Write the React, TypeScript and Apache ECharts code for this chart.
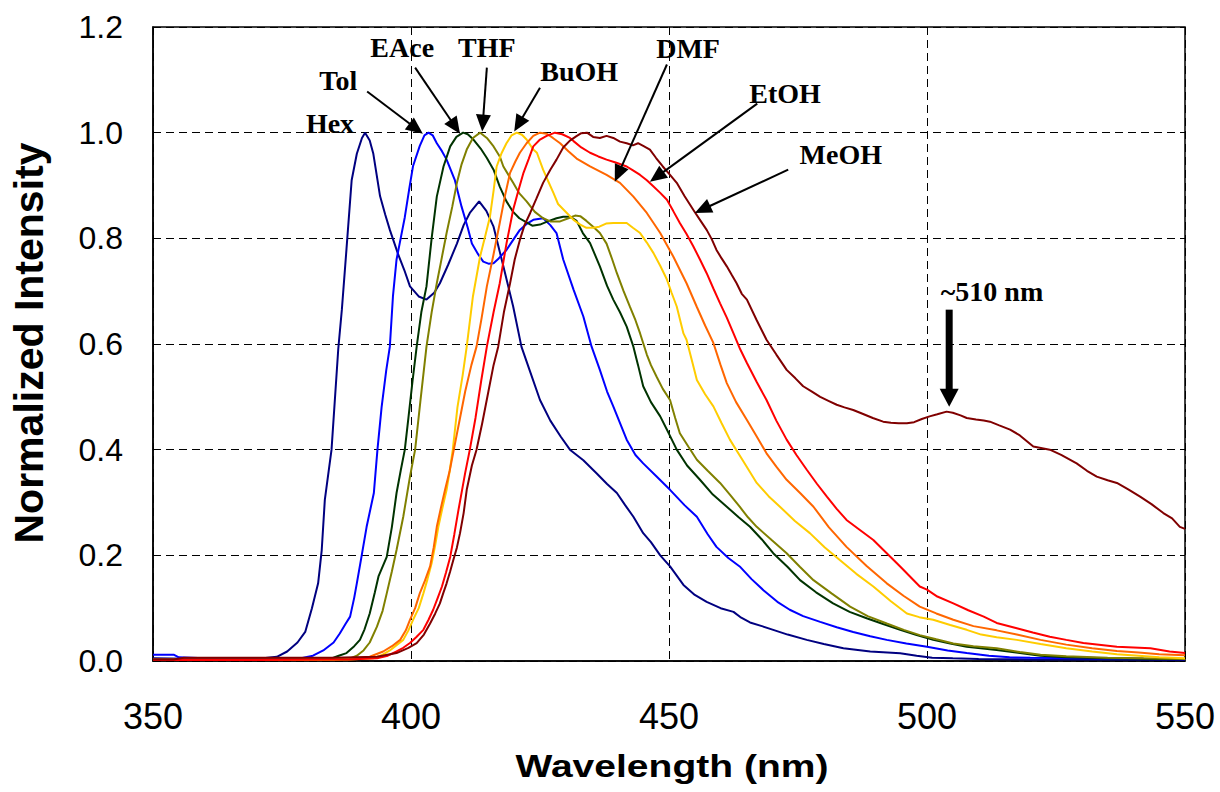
import React, { useEffect, useRef } from "react";
import * as echarts from "echarts";

// Emission spectra: [wavelength (nm), normalized intensity]
const hex: number[][] = [
  [350, 0.005], [360, 0.004], [370, 0.004], [374, 0.008], [376, 0.018], [378, 0.035], [379.5, 0.055],
  [380.8, 0.1], [382, 0.147], [382.7, 0.21], [383.3, 0.305], [384.6, 0.4], [385.9, 0.59], [386.6, 0.665],
  [387.5, 0.78], [388.5, 0.91], [389.5, 0.96], [390.5, 0.99], [391.1, 1.0], [392, 0.985], [392.7, 0.96],
  [394, 0.88], [395, 0.845], [395.9, 0.816], [397.5, 0.77], [398.7, 0.74], [399.8, 0.709], [401.5, 0.69],
  [403, 0.684], [404.5, 0.697], [405.6, 0.715], [407.2, 0.75], [408.9, 0.79], [410.2, 0.825], [411.4, 0.848],
  [413.2, 0.87], [414.6, 0.852], [416, 0.822], [417.9, 0.747], [419.8, 0.671], [421.4, 0.595], [423, 0.55],
  [425, 0.494], [427, 0.455], [429, 0.425], [430.8, 0.4], [433.4, 0.38], [436, 0.355], [438, 0.335],
  [439.9, 0.318], [441.5, 0.295], [443.1, 0.273], [445, 0.242], [446.5, 0.225], [448.3, 0.2], [450.2, 0.179],
  [452.8, 0.144], [455, 0.125], [457.3, 0.112], [460, 0.1], [462.5, 0.093], [464, 0.082], [465.7, 0.073],
  [468, 0.066], [470.2, 0.059], [473, 0.05], [476.7, 0.04], [480, 0.032], [483.8, 0.024], [489, 0.018],
  [494.8, 0.0146], [498, 0.01], [501, 0.006], [505, 0.005], [510, 0.004], [520, 0.003], [535, 0.003], [550, 0.002],
];

const tol: number[][] = [
  [350, 0.012], [354, 0.012], [355, 0.007], [360, 0.005], [370, 0.004], [378, 0.004], [381, 0.01],
  [383, 0.02], [385, 0.035], [386.2, 0.052], [387.3, 0.07], [388.2, 0.084], [389, 0.12], [389.5, 0.147],
  [390.4, 0.197], [391.4, 0.254], [392.8, 0.318], [393.5, 0.4], [394.3, 0.48], [395.2, 0.55], [395.9, 0.595],
  [396.5, 0.69], [397.2, 0.76], [398, 0.8], [398.8, 0.84], [399.6, 0.89], [400.4, 0.937], [401.7, 0.975],
  [402.6, 0.995], [403.4, 1.0], [404.2, 0.995], [405, 0.98], [406, 0.965], [406.9, 0.949], [408.5, 0.91],
  [409.8, 0.86], [411, 0.82], [411.8, 0.79], [413, 0.77], [414, 0.756], [415, 0.752], [416, 0.753],
  [417, 0.762], [418.5, 0.778], [420, 0.8], [421.1, 0.816], [422.5, 0.828], [423.7, 0.835], [425.6, 0.838],
  [427, 0.825], [428.2, 0.81], [429.5, 0.76], [431.5, 0.703], [433.4, 0.652], [435, 0.595], [436.6, 0.551],
  [438, 0.51], [439.2, 0.482], [441.8, 0.419], [443.5, 0.39], [445, 0.374], [447.5, 0.35], [450.2, 0.324],
  [453, 0.295], [455.4, 0.273], [457.5, 0.24], [459.2, 0.216], [461.5, 0.195], [463.7, 0.179], [466, 0.155],
  [468.3, 0.134], [471, 0.112], [473.4, 0.097], [476, 0.085], [479.3, 0.074], [482.5, 0.064], [485.7, 0.055],
  [489, 0.047], [492.2, 0.04], [496, 0.033], [500, 0.027], [504, 0.02], [507.7, 0.015], [512, 0.01],
  [516, 0.007], [520, 0.006], [530, 0.005], [540, 0.004], [550, 0.004],
];

const eace: number[][] = [
  [350, 0.003], [370, 0.003], [380, 0.003], [384.3, 0.004], [386, 0.01], [387.5, 0.015], [389, 0.028],
  [390.1, 0.04], [391, 0.06], [392, 0.09], [393, 0.13], [393.7, 0.16], [395.3, 0.197], [396.3, 0.254],
  [397.2, 0.318], [398, 0.36], [398.8, 0.4], [399.5, 0.46], [400.3, 0.53], [401.1, 0.595], [402, 0.66],
  [403, 0.709], [404, 0.8], [405, 0.879], [406.3, 0.936], [407.6, 0.974], [408.8, 0.992], [410.1, 1.0],
  [411, 0.997], [412.1, 0.987], [413.5, 0.97], [414.7, 0.952], [416, 0.93], [417.2, 0.898], [418.5, 0.87],
  [419.8, 0.85], [421, 0.838], [422.4, 0.83], [423.5, 0.824], [425, 0.826], [426.5, 0.832], [428.2, 0.838],
  [429.5, 0.841], [430.8, 0.841], [432.1, 0.833], [433.3, 0.81], [434.7, 0.791], [436.6, 0.747], [438, 0.71],
  [439.2, 0.684], [440.5, 0.66], [441.8, 0.633], [443.1, 0.595], [444, 0.56], [445, 0.52], [446.5, 0.49],
  [448.3, 0.463], [450, 0.43], [451.5, 0.4], [453.5, 0.37], [456, 0.343], [458.5, 0.315], [461.2, 0.292],
  [463.5, 0.272], [465.7, 0.254], [468, 0.23], [470.2, 0.204], [473, 0.178], [475.4, 0.153], [478.5, 0.13],
  [481.8, 0.109], [485, 0.093], [488.3, 0.081], [491.5, 0.07], [494.8, 0.059], [498, 0.049], [501.2, 0.04],
  [504.5, 0.033], [507.7, 0.027], [513.5, 0.021], [518, 0.015], [522, 0.01], [527, 0.007], [535, 0.005],
  [545, 0.004], [550, 0.004],
];

const thf: number[][] = [
  [350, 0.002], [370, 0.002], [385, 0.002], [388.2, 0.005], [389.5, 0.01], [390.8, 0.02], [392, 0.035],
  [393.4, 0.065], [394.5, 0.095], [395.3, 0.128], [396.3, 0.17], [397.2, 0.21], [398.5, 0.273], [399.8, 0.349],
  [400.8, 0.4], [401.8, 0.49], [403, 0.595], [404, 0.66], [405, 0.715], [406, 0.765], [406.9, 0.81],
  [408, 0.86], [408.9, 0.905], [409.8, 0.94], [410.8, 0.968], [412, 0.99], [413.4, 1.0], [414.7, 0.99],
  [416, 0.974], [417.2, 0.955], [417.9, 0.936], [419.8, 0.905], [421, 0.885], [422.4, 0.87], [424, 0.85],
  [425.6, 0.838], [427, 0.832], [428.9, 0.832], [430.5, 0.838], [431.8, 0.843], [432.8, 0.842], [434, 0.833],
  [435.3, 0.822], [436.6, 0.81], [437.9, 0.79], [439, 0.76], [439.9, 0.734], [441.2, 0.7], [442.4, 0.671],
  [443.5, 0.645], [444.4, 0.62], [445.7, 0.58], [446.5, 0.56], [447.6, 0.538], [448.8, 0.515], [450.2, 0.494],
  [451.2, 0.46], [452.1, 0.431], [453.8, 0.405], [455.4, 0.381], [457.5, 0.36], [459.9, 0.337], [461.8, 0.315],
  [463.7, 0.292], [465.3, 0.272], [467, 0.254], [470, 0.228], [472.8, 0.204], [475.4, 0.178], [478, 0.153],
  [481.5, 0.128], [485.1, 0.103], [488.5, 0.085], [492.2, 0.071], [495.5, 0.059], [498.6, 0.049],
  [501.8, 0.041], [505.1, 0.033], [509, 0.028], [513.5, 0.024], [518, 0.017], [522, 0.012], [527, 0.009],
  [535, 0.006], [542, 0.005], [550, 0.004],
];

const buoh: number[][] = [
  [350, 0.002], [370, 0.002], [388, 0.003], [392.7, 0.005], [394.5, 0.012], [395.9, 0.02], [397.2, 0.03],
  [398.5, 0.04], [399.5, 0.058], [400.4, 0.078], [401.5, 0.1], [402.4, 0.128], [403.2, 0.155], [404, 0.185],
  [404.7, 0.22], [405.3, 0.254], [406.1, 0.29], [406.9, 0.324], [407.5, 0.36], [408.1, 0.4], [409, 0.48],
  [410, 0.54], [410.8, 0.595], [412, 0.69], [413.4, 0.766], [414.4, 0.805], [415.3, 0.841], [416, 0.89],
  [416.6, 0.936], [417.5, 0.96], [418.5, 0.98], [419.5, 0.995], [420.5, 1.0], [421.5, 0.996], [422.4, 0.987],
  [423.7, 0.968], [424.4, 0.962], [425.6, 0.93], [426.5, 0.91], [427.6, 0.886], [428.5, 0.865], [430.2, 0.848],
  [431.5, 0.835], [432.8, 0.826], [434, 0.82], [435.3, 0.82], [436.5, 0.822], [437.8, 0.828], [439.2, 0.829],
  [441.8, 0.829], [443, 0.82], [444.4, 0.81], [445.7, 0.792], [447, 0.772], [448.3, 0.748], [449.6, 0.722],
  [450.5, 0.697], [451.5, 0.671], [452.8, 0.62], [453.4, 0.608], [454.4, 0.57], [455.4, 0.532], [457, 0.505],
  [458.6, 0.482], [460.2, 0.45], [461.8, 0.419], [464.4, 0.378], [467, 0.337], [469.3, 0.312], [471.5, 0.292],
  [474.4, 0.265], [477.3, 0.242], [480.2, 0.215], [483.1, 0.191], [486.3, 0.165], [489.6, 0.141], [493, 0.113],
  [496.1, 0.09], [498.5, 0.083], [501.2, 0.078], [504.5, 0.068], [507.7, 0.059], [510.5, 0.05], [513.5, 0.045],
  [517.4, 0.04], [522, 0.032], [527, 0.024], [532, 0.018], [536.8, 0.013], [541, 0.01], [545, 0.007], [550, 0.005],
];

const dmf: number[][] = [
  [350, 0.003], [370, 0.003], [388, 0.004], [392, 0.008], [394.6, 0.018], [396.3, 0.028], [397.9, 0.04],
  [399, 0.058], [399.8, 0.078], [400.8, 0.1], [401.7, 0.128], [402.7, 0.152], [403.7, 0.179], [404.4, 0.215],
  [405, 0.254], [405.8, 0.29], [406.6, 0.324], [407.5, 0.36], [408.3, 0.4], [409.5, 0.46], [410.5, 0.51],
  [411.7, 0.56], [412.7, 0.595], [413.7, 0.65], [414.7, 0.709], [416, 0.77], [417.2, 0.829], [418.2, 0.88],
  [419.2, 0.924], [420.2, 0.945], [421.1, 0.962], [422.4, 0.98], [423.7, 0.994], [425, 1.0], [426.3, 0.998],
  [427.5, 0.99], [428.9, 0.98], [430.5, 0.965], [432.1, 0.951], [434.7, 0.936], [437.9, 0.92], [440.5, 0.905],
  [443.1, 0.879], [445.7, 0.848], [448.3, 0.81], [450.8, 0.766], [453.4, 0.715], [455.4, 0.67], [457, 0.635],
  [458.6, 0.602], [460, 0.56], [461.2, 0.526], [463, 0.49], [465.1, 0.456], [467, 0.425], [468.9, 0.393],
  [470.8, 0.368], [472.8, 0.343], [475.5, 0.317], [478, 0.292], [481, 0.253], [484.4, 0.216], [488.3, 0.18],
  [492.2, 0.147], [495.5, 0.123], [498.6, 0.103], [501.8, 0.09], [505.1, 0.078], [509, 0.066], [513.5, 0.058],
  [517.4, 0.05], [522, 0.04], [527, 0.031], [532, 0.024], [536.8, 0.019], [541, 0.016], [545, 0.013], [550, 0.011],
];

const etoh: number[][] = [
  [350, 0.002], [370, 0.002], [388, 0.003], [393.4, 0.005], [395.5, 0.01], [397.2, 0.018], [398.5, 0.025],
  [399.8, 0.034], [401, 0.045], [402.4, 0.059], [403.4, 0.078], [404.3, 0.097], [405.2, 0.12], [406, 0.141],
  [406.8, 0.168], [407.6, 0.197], [408.4, 0.24], [409.2, 0.286], [410.5, 0.356], [411.4, 0.4], [412.5, 0.46],
  [413.6, 0.53], [414.7, 0.595], [416, 0.66], [417.2, 0.715], [418.5, 0.79], [419.8, 0.854], [420.8, 0.89],
  [421.8, 0.924], [422.8, 0.95], [423.7, 0.974], [425, 0.987], [426.3, 0.994], [427.9, 1.0], [429.3, 0.997],
  [430.8, 0.99], [431.5, 0.984], [433, 0.972], [434.7, 0.962], [436.3, 0.955], [437.9, 0.949], [439.8, 0.943],
  [441.8, 0.936], [443.1, 0.928], [444.4, 0.92], [445.7, 0.91], [447, 0.898], [448.3, 0.886], [449.6, 0.873],
  [450.8, 0.852], [452.1, 0.829], [453.4, 0.808], [454.7, 0.785], [456, 0.76], [457.3, 0.734], [458.6, 0.705],
  [459.9, 0.677], [461.2, 0.65], [462.5, 0.62], [463.8, 0.59], [465.1, 0.564], [467, 0.528], [468.9, 0.494],
  [470.8, 0.455], [472.8, 0.419], [474.7, 0.39], [476.7, 0.362], [478.7, 0.335], [480.6, 0.311], [482.5, 0.288],
  [484.4, 0.267], [487, 0.248], [489.6, 0.229], [492.2, 0.204], [494.8, 0.179], [496.7, 0.16], [498.6, 0.141],
  [500, 0.135], [502, 0.122], [505.1, 0.109], [508, 0.096], [511, 0.084], [513.5, 0.072], [517.4, 0.062],
  [520.5, 0.054], [523.8, 0.046], [527, 0.04], [530.3, 0.034], [536.8, 0.027], [543.3, 0.024], [547, 0.018],
  [550, 0.015],
];

const meoh: number[][] = [
  [350, 0.003], [354, 0.003], [356, 0.006], [365, 0.006], [375, 0.006], [385, 0.006], [393.4, 0.008],
  [397.2, 0.015], [399.5, 0.025], [401.1, 0.034], [402.5, 0.05], [403.7, 0.071], [404.7, 0.09], [405.6, 0.109],
  [406.3, 0.13], [406.9, 0.147], [407.6, 0.17], [408.2, 0.191], [408.9, 0.215], [409.5, 0.242], [410.2, 0.28],
  [410.8, 0.324], [411.8, 0.37], [412.7, 0.4], [413.8, 0.45], [415, 0.51], [416, 0.56], [416.9, 0.595],
  [418, 0.66], [419.2, 0.715], [420.1, 0.76], [421.1, 0.797], [422, 0.825], [423.1, 0.848], [424.3, 0.875],
  [425.6, 0.905], [427, 0.93], [428.2, 0.949], [429.5, 0.972], [430.8, 0.985], [432, 0.993], [433, 0.999],
  [434.1, 1.0], [435.3, 0.992], [436.6, 0.99], [437.9, 0.994], [439.2, 0.99], [440.5, 0.983], [441.8, 0.98],
  [443, 0.976], [444, 0.98], [445, 0.975], [446.3, 0.968], [447.5, 0.952], [448.8, 0.936], [450.2, 0.92],
  [451.5, 0.905], [453, 0.88], [454.7, 0.854], [456, 0.835], [457.3, 0.816], [458.3, 0.798], [459.2, 0.778],
  [460.2, 0.762], [461.2, 0.747], [462.2, 0.73], [463.1, 0.715], [464.1, 0.695], [465.1, 0.684], [467, 0.645],
  [468.9, 0.608], [470.8, 0.58], [472.8, 0.551], [474.5, 0.535], [476, 0.52], [477.7, 0.51], [479.3, 0.5],
  [481, 0.492], [482.5, 0.485], [484, 0.48], [485.7, 0.475], [487.5, 0.468], [489.5, 0.46], [491.5, 0.453],
  [493, 0.451], [494.5, 0.45], [496.1, 0.45], [497.5, 0.452], [499, 0.458], [500.5, 0.463], [502, 0.467],
  [503.8, 0.472], [505, 0.47], [506.5, 0.465], [507.7, 0.46], [509.5, 0.457], [511, 0.455], [512.2, 0.453],
  [514, 0.446], [516.1, 0.438], [518, 0.427], [520.6, 0.406], [523.8, 0.4], [526, 0.39], [529, 0.374],
  [531, 0.36], [532.9, 0.349], [535, 0.342], [536.8, 0.337], [539, 0.325], [541.3, 0.311], [543.5, 0.297],
  [545.8, 0.28], [547.5, 0.27], [549, 0.254], [550, 0.25],
];

const seriesNames = ["Hex", "Tol", "EAce", "THF", "BuOH", "DMF", "EtOH", "MeOH"];
const seriesData = [hex, tol, eace, thf, buoh, dmf, etoh, meoh];
const seriesColors = ["#000080", "#0000FF", "#003300", "#808000", "#FFCC00", "#FF6600", "#FF0000", "#800000"];

const xMin = 350, xMax = 550, xInterval = 50;
const yMin = 0, yMax = 1.2, yInterval = 0.2;

// Annotation labels in data coordinates [nm, intensity]
const labelTexts = ["Hex", "Tol", "EAce", "THF", "BuOH", "DMF", "EtOH", "MeOH", "~510 nm"];
const labelPos: number[][] = [
  [384.3, 1.0175], [385.9, 1.0995], [398.3, 1.161], [414.7, 1.161], [432.6, 1.116],
  [453.7, 1.159], [472.5, 1.074], [483.3, 0.958], [512.6, 0.70],
];
// Arrows: [fromX, fromY, toX, toY] in data coordinates
const arrows: number[][] = [
  [391.5, 1.078, 402.3, 0.998],
  [400.8, 1.123, 409.5, 0.998],
  [414.7, 1.123, 413.8, 1.002],
  [425.0, 1.085, 420.0, 1.002],
  [449.6, 1.129, 439.5, 0.907],
  [467.1, 1.055, 446.3, 0.907],
  [473.1, 0.93, 455.0, 0.848],
];
const bigArrow: number[] = [504.3, 0.665, 504.3, 0.481];

export default function App() {
  const ref = useRef<HTMLDivElement>(null);
  useEffect(() => {
    if (!ref.current) return;
    const chart = echarts.init(ref.current, null, { renderer: "svg" });
    const dash = { color: "#000", width: 1, type: [8, 5] as any };
    chart.setOption({
      animation: false,
      backgroundColor: "#fff",
      grid: { left: 153, top: 27, width: 1032, height: 634, show: true, borderColor: "#000", borderWidth: 1.5, backgroundColor: "transparent" },
      xAxis: {
        type: "value", min: xMin, max: xMax, interval: xInterval,
        axisLine: { show: true, lineStyle: { color: "#000", width: 1.5 } },
        axisTick: { show: false },
        axisLabel: { color: "#000", fontSize: 36, fontFamily: "Liberation Sans, Arial", margin: 37 },
        splitLine: { show: true, lineStyle: dash },
      },
      yAxis: {
        type: "value", min: yMin, max: yMax, interval: yInterval,
        axisLine: { show: true, lineStyle: { color: "#000", width: 1.5 } },
        axisTick: { show: false },
        axisLabel: { color: "#000", fontSize: 32, fontFamily: "Liberation Sans, Arial", margin: 30, formatter: (v: number) => v.toFixed(1) },
        splitLine: { show: true, lineStyle: dash },
      },
      series: seriesData.map((d, i) => ({
        name: seriesNames[i], type: "line", data: d, showSymbol: false, symbol: "none",
        lineStyle: { color: seriesColors[i], width: 2 }, itemStyle: { color: seriesColors[i] },
        smooth: false, z: 3 + i,
      })),
    });

    const toPx = (p: number[]) => chart.convertToPixel({ gridIndex: 0 }, p) as number[];
    const graphics: any[] = [];
    const serif = 'bold 28px "Liberation Serif", "Times New Roman", serif';
    labelTexts.forEach((t, i) => {
      const [px, py] = toPx(labelPos[i]);
      graphics.push({
        type: "text", x: px, y: py, z: 100,
        style: { text: t, font: serif, fill: "#000", align: "center", verticalAlign: "middle", textAlign: "center", textVerticalAlign: "middle" },
      });
    });
    const makeArrow = (a: number[], lw: number, headLen: number, headHalf: number) => {
      const [x1, y1] = toPx([a[0], a[1]]);
      const [x2, y2] = toPx([a[2], a[3]]);
      const dx = x2 - x1, dy = y2 - y1;
      const len = Math.sqrt(dx * dx + dy * dy);
      const ux = dx / len, uy = dy / len;
      const bx = x2 - ux * headLen, by = y2 - uy * headLen;
      graphics.push({
        type: "line", z: 100,
        shape: { x1, y1, x2: bx + ux * 1, y2: by + uy * 1 },
        style: { stroke: "#000", lineWidth: lw },
      });
      graphics.push({
        type: "polygon", z: 100,
        shape: { points: [[x2, y2], [bx - uy * headHalf, by + ux * headHalf], [bx + uy * headHalf, by - ux * headHalf]] },
        style: { fill: "#000" },
      });
    };
    arrows.forEach((a) => makeArrow(a, 2, 17, 7.5));
    makeArrow(bigArrow, 7, 18, 9.5);

    graphics.push({
      type: "text", x: 29, y: 343, rotation: Math.PI / 2, z: 100,
      style: { text: "Normalized Intensity", font: 'bold 41px "Liberation Sans", Arial, sans-serif', fill: "#000", align: "center", verticalAlign: "middle", textAlign: "center", textVerticalAlign: "middle" },
    });
    graphics.push({
      type: "text", x: 672, y: 766, scaleX: 1.22, z: 100,
      style: { text: "Wavelength (nm)", font: 'bold 32px "Liberation Sans", Arial, sans-serif', fill: "#000", align: "center", verticalAlign: "middle", textAlign: "center", textVerticalAlign: "middle" },
    });
    chart.setOption({ graphic: graphics });

    return () => chart.dispose();
  }, []);
  return <div ref={ref} style={{ position: "absolute", left: 0, top: 0, width: 1220, height: 792 }} />;
}
